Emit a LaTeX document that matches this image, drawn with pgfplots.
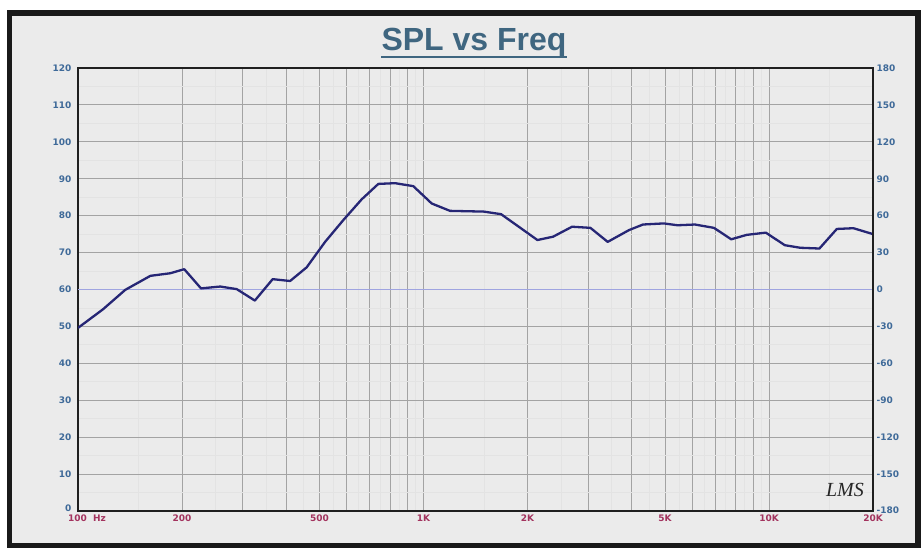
\documentclass[border=0pt]{standalone}
\usepackage{fontspec}
\setmainfont{DejaVu Sans}
\newfontfamily\titlefont{Liberation Sans}
\newfontfamily\logofont{Liberation Serif}
\usepackage{pgfplots}
\pgfplotsset{compat=1.18}
\definecolor{bgc}{HTML}{EBEBEB}
\definecolor{tickblue}{HTML}{3F6A99}
\definecolor{tickred}{HTML}{A3335E}
\definecolor{titlec}{HTML}{3F6680}
\definecolor{curve}{HTML}{262675}
\definecolor{phase}{HTML}{9FA4E0}
\begin{document}
\begin{tikzpicture}
\fill[white] (0pt,0pt) rectangle (924pt,551pt);
\draw[fill=bgc, draw=black!90, line width=5.5pt] (9.5pt,5.5pt) rectangle (918pt,538pt);
\begin{axis}[
  at={(78pt,40pt)}, anchor=south west, scale only axis,
  width=795pt, height=443pt,
  xmode=log, xmin=100, xmax=20000, ymin=0, ymax=120,
  xtick={100,200,300,400,500,600,700,800,900,1000,2000,3000,4000,5000,6000,7000,8000,9000,10000,20000},
  xticklabels={\makebox[0pt][l]{\hspace{-10pt}100\ \ Hz},200,,,500,,,,,1K,2K,,,5K,,,,,10K,20K},
  minor xtick={150,250,350,450,550,650,750,850,950,1500,2500,3500,4500,5500,6500,7500,8500,9500,15000},
  ytick={0,10,20,30,40,50,60,70,80,90,100,110,120},
  yticklabels={\raisebox{6pt}{0},10,20,30,40,50,60,70,80,90,100,110,120},
  minor ytick={5,15,25,35,45,55,65,75,85,95,105,115},
  grid=both,
  major grid style={draw=black!36, line width=1pt},
  minor grid style={draw=black!11, line width=0.9pt},
  major tick length=0, minor tick length=0,
  axis line style={draw=black!88, line width=1.8pt},
  tick label style={font=\fontsize{9}{10}\selectfont\bfseries},
  xticklabel style={text=tickred},
  yticklabel style={text=tickblue, xshift=-3pt},
]
\addplot[draw=phase, line width=1.5pt] coordinates {(100,60) (20000,60)};
\addplot[draw=curve, line width=2.3pt, line join=round] coordinates {
(100,49.6) (118,54.6) (137,59.9) (162,63.7) (185,64.4) (203,65.5)
(227,60.3) (258,60.8) (288,60.1) (325,57.0) (366,62.8) (411,62.3)
(459,66.0) (519,72.9) (586,78.8) (662,84.4) (740,88.6) (827,88.8)
(934,88.0) (1056,83.3) (1193,81.3) (1494,81.1) (1677,80.4) (1900,76.8)
(2136,73.4) (2371,74.3) (2691,77.0) (3041,76.7) (3413,72.9) (3936,76.1)
(4318,77.6) (4958,77.9) (5438,77.4) (6103,77.6) (6927,76.7) (7773,73.6)
(8624,74.8) (9788,75.4) (11110,72.0) (12326,71.3) (13993,71.1)
(15714,76.4) (17550,76.6) (20000,75.0)};
\node[anchor=south west, text=tickblue, font=\fontsize{9}{10}\selectfont\bfseries, inner sep=0pt] at (axis description cs:0,1) [xshift=-3pt, yshift=4pt] {dBSPL};
\node[anchor=south east, text=tickblue, font=\fontsize{9}{10}\selectfont\bfseries, inner sep=0pt] at (axis description cs:1,1) [xshift=-3pt, yshift=4pt] {Deg};
\end{axis}
\begin{axis}[
  at={(78pt,40pt)}, anchor=south west, scale only axis,
  width=795pt, height=443pt,
  xmode=log, xmin=100, xmax=20000, ymin=-180, ymax=180,
  hide x axis, axis y line*=right,
  ytick={-180,-150,-120,-90,-60,-30,0,30,60,90,120,150,180},
  yticklabels={\raisebox{2pt}{-180},-150,-120,-90,-60,-30,0,30,60,90,120,150,180},
  major tick length=0,
  axis line style={draw=black!88, line width=1.8pt},
  tick label style={font=\fontsize{9}{10}\selectfont\bfseries},
  yticklabel style={text=tickblue},
]
\end{axis}
\node[anchor=base, inner sep=0pt, text=titlec, font=\titlefont\bfseries\fontsize{32}{34}\selectfont] (title) at (474pt,500pt) {SPL vs Freq};
\draw[titlec, line width=2.2pt] ([yshift=-6pt]title.base west) -- ([yshift=-6pt]title.base east);
\node[font=\logofont\itshape\fontsize{20}{22}\selectfont, text=black!85] at (845pt,61pt) {LMS};
\end{tikzpicture}
\end{document}
